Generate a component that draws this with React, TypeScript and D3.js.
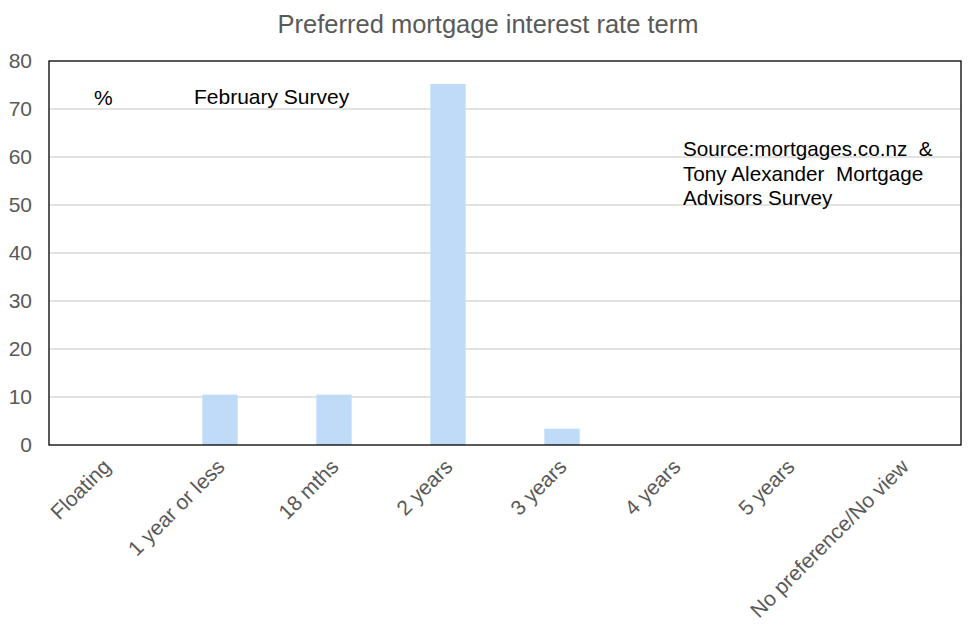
import { useEffect, useRef } from 'react'
import * as d3 from 'd3'

const CATEGORIES = [
  'Floating', '1 year or less', '18 mths', '2 years',
  '3 years', '4 years', '5 years', 'No preference/No view',
]
const VALUES = [0, 10.5, 10.5, 75.2, 3.4, 0, 0, 0]
const Y_TICKS = [0, 10, 20, 30, 40, 50, 60, 70, 80]
const SOURCE_LINES = ['Source:mortgages.co.nz  &', 'Tony Alexander  Mortgage', 'Advisors Survey']

const FONT = '"Liberation Sans", Arial, sans-serif'

export default function App() {
  const svgRef = useRef<SVGSVGElement>(null)
  const WIDTH = 976
  const HEIGHT = 637
  const M = { top: 61, right: 15, bottom: 192, left: 49 }
  const IW = WIDTH - M.left - M.right
  const IH = HEIGHT - M.top - M.bottom

  useEffect(() => {
    if (!svgRef.current) return
    const svg = d3.select(svgRef.current)
    svg.selectAll('*').remove()

    const x = d3.scaleBand<string>().domain(CATEGORIES).range([0, IW])
    const y = d3.scaleLinear().domain([0, 80]).range([IH, 0])

    // title
    svg.append('text').attr('x', 488).attr('y', 33)
      .attr('text-anchor', 'middle').attr('fill', '#595959')
      .attr('font-size', 25.5).attr('font-family', FONT)
      .text('Preferred mortgage interest rate term')

    const g = svg.append('g').attr('transform', `translate(${M.left},${M.top})`)

    // gridlines
    Y_TICKS.filter(t => t > 0 && t < 80).forEach(t =>
      g.append('line').attr('x1', 0).attr('x2', IW)
        .attr('y1', y(t)).attr('y2', y(t))
        .attr('stroke', '#d9d9d9').attr('stroke-width', 1.3)
    )

    // bars
    const bw = x.step() * 0.31
    CATEGORIES.forEach((c, i) => {
      if (VALUES[i] <= 0) return
      g.append('rect')
        .attr('x', x(c)! + x.bandwidth() / 2 - bw / 2)
        .attr('y', y(VALUES[i]))
        .attr('width', bw)
        .attr('height', IH - y(VALUES[i]))
        .attr('fill', '#bfdbf7')
    })

    // plot frame
    g.append('rect').attr('x', 0).attr('y', 0).attr('width', IW).attr('height', IH)
      .attr('fill', 'none').attr('stroke', '#000').attr('stroke-width', 1.3)

    // y axis labels
    Y_TICKS.forEach(t =>
      g.append('text').attr('x', -17).attr('y', y(t) + 7)
        .attr('text-anchor', 'end').attr('fill', '#595959')
        .attr('font-size', 21).attr('font-family', FONT)
        .text(String(t))
    )

    // x axis labels, rotated
    CATEGORIES.forEach(c => {
      const cx = x(c)! + x.bandwidth() / 2
      g.append('text')
        .attr('transform', `translate(${cx + 6},${IH + 23}) rotate(-45)`)
        .attr('text-anchor', 'end').attr('fill', '#595959')
        .attr('font-size', 21).attr('font-family', FONT)
        .text(c)
    })

    // annotations
    svg.append('text').attr('x', 94).attr('y', 105)
      .attr('fill', '#000').attr('font-size', 21).attr('font-family', FONT).text('%')
    svg.append('text').attr('x', 194).attr('y', 104)
      .attr('fill', '#000').attr('font-size', 21).attr('font-family', FONT).text('February Survey')
    SOURCE_LINES.forEach((line, i) =>
      svg.append('text').attr('x', 683).attr('y', 156 + i * 24.5)
        .attr('fill', '#000').attr('font-size', 20.7).attr('font-family', FONT)
        .attr('xml:space', 'preserve').style('white-space', 'pre')
        .text(line)
    )
  }, [])

  return <svg ref={svgRef} width={WIDTH} height={HEIGHT} style={{ display: 'block', margin: -8, background: '#fff' }} />
}
